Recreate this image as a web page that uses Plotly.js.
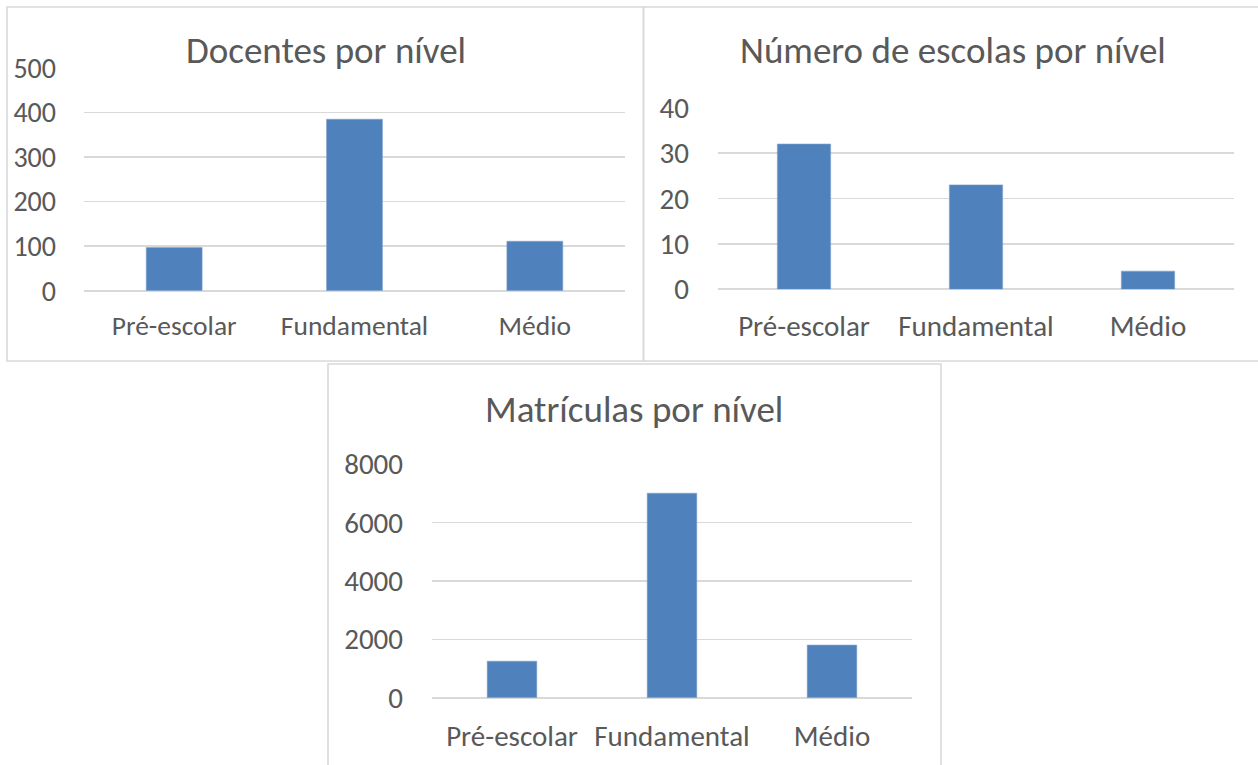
<!DOCTYPE html>
<html>
<head>
<meta charset="utf-8">
<script src="https://cdn.plot.ly/plotly-3.0.1.min.js"></script>
<style>
html,body{margin:0;padding:0;background:#fff;}
#chart{width:1258px;height:765px;}
</style>
</head>
<body>
<div id="chart"></div>
<script>
// ---- data ----
const categories = ["Pré-escolar", "Fundamental", "Médio"];
const docentes = [97, 385, 111];
const escolas = [32, 23, 4];
const matriculas = [1250, 7000, 1800];
const titles = ["Docentes por nível", "Número de escolas por nível", "Matrículas por nível"];
const ticks1 = [0, 100, 200, 300, 400, 500];
const ticks2 = [0, 10, 20, 30, 40];
const ticks3 = [0, 2000, 4000, 6000, 8000];

const FONT = "Carlito, Lato, 'Open Sans', sans-serif";
const BAR = "#4f81bd";
const GRID = "#d9d9d9";
const TXT = "#595959";
const W = 1258, H = 765;
const px = v => v / W;
const py = v => 1 - v / H;

function bar(y, xa, ya) {
  return {
    type: "bar", x: categories, y: y, xaxis: xa, yaxis: ya,
    width: 0.31,
    marker: {color: BAR, line: {color: "#7fa2cf", width: 0.6}},
    hoverinfo: "x+y", showlegend: false
  };
}

function xax(dom, anchor, size, standoff) {
  return {
    domain: dom, anchor: anchor, type: "category",
    showgrid: false, zeroline: false, showline: false,
    ticks: "", ticklabelstandoff: standoff,
    tickfont: {family: FONT, size: size, color: TXT},
    fixedrange: true
  };
}
function yax(dom, anchor, rng, tv, size, standoff) {
  return {
    domain: dom, anchor: anchor, range: rng,
    tickvals: tv, ticktext: tv.map(String),
    showgrid: true, gridcolor: GRID, gridwidth: 1.4,
    zeroline: true, zerolinecolor: GRID, zerolinewidth: 1.6,
    showline: false, ticks: "", ticklabelstandoff: standoff,
    tickfont: {family: FONT, size: size, color: TXT},
    fixedrange: true
  };
}

const data = [
  bar(docentes, "x", "y"),
  bar(escolas, "x2", "y2"),
  bar(matriculas, "x3", "y3")
];

const panelLine = {color: GRID, width: 1.6};
const layout = {
  width: W, height: H,
  margin: {l: 0, r: 0, t: 0, b: 0},
  paper_bgcolor: "#ffffff", plot_bgcolor: "rgba(0,0,0,0)",
  font: {family: FONT, color: TXT},
  showlegend: false,
  xaxis: xax([px(84), px(625)], "y", 27.5, 16),
  yaxis: yax([py(290.7), py(68)], "x", [0, 500], ticks1, 28, 27),
  xaxis2: xax([px(718), px(1234)], "y2", 29, 17),
  yaxis2: yax([py(289.3), py(107.7)], "x2", [0, 40], ticks2, 29, 28),
  xaxis3: xax([px(432), px(912)], "y3", 29, 18),
  yaxis3: yax([py(697.7), py(464)], "x3", [0, 8000], ticks3, 29, 28),
  shapes: [
    {type: "rect", xref: "paper", yref: "paper", x0: px(7), x1: px(643.5), y0: py(361), y1: py(7), line: panelLine, layer: "below"},
    {type: "rect", xref: "paper", yref: "paper", x0: px(643.5), x1: 1.01, y0: py(361), y1: py(7), line: panelLine, layer: "below"},
    {type: "rect", xref: "paper", yref: "paper", x0: px(328), x1: px(941), y0: -0.05, y1: py(364), line: panelLine, layer: "below"}
  ],
  annotations: [
    {text: titles[0], xref: "paper", yref: "paper", x: px(326), y: py(51), xanchor: "center", yanchor: "middle", showarrow: false, font: {family: FONT, size: 37, color: TXT}},
    {text: titles[1], xref: "paper", yref: "paper", x: px(953), y: py(51), xanchor: "center", yanchor: "middle", showarrow: false, font: {family: FONT, size: 37, color: TXT}},
    {text: titles[2], xref: "paper", yref: "paper", x: px(634), y: py(409), xanchor: "center", yanchor: "middle", showarrow: false, font: {family: FONT, size: 37, color: TXT}}
  ]
};

Plotly.newPlot("chart", data, layout, {displayModeBar: false, staticPlot: true});
</script>
</body>
</html>
